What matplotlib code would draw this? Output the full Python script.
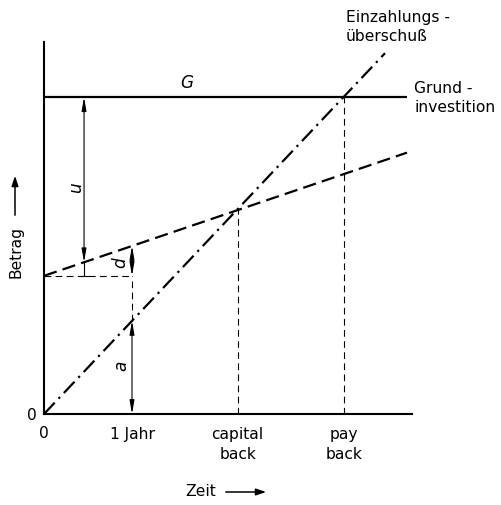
import matplotlib
matplotlib.use("Agg")
import matplotlib.pyplot as plt
import numpy as np

# ---- data (years on x, amount on y, arbitrary units) ----
tick_pos = [0, 1, 2.2, 3.41]
tick_labels = ["0", "1 Jahr", "capital\nback", "pay\nback"]
invest_x = [0, 4.125]
invest_y = [3.6, 3.6]                 # Grundinvestition G
einz_x = [0, 3.875]
einz_y = [0, 4.10]                    # Einzahlungsüberschuß (dash-dot)
cost_x = [0, 4.125]
cost_y = [1.57, 2.97]                 # dashed line
capital_back = 2.2
pay_back = 3.41
u_x = 0.455
year1 = 1.0

W, H = 502, 505
fig = plt.figure(figsize=(W / 100, H / 100), dpi=100)
plt.rcParams['font.family'] = ['DejaVu Sans']
FS = 11.2

def fx(px):
    return px / W

def fy(py):
    return 1 - py / H

ax = fig.add_axes([fx(44), fy(414), (412 - 44) / W, (414 - 42) / H])
ax.set_xlim(0, (412 - 44) / 88)
ax.set_ylim(0, (414 - 42) / 88)
for s in ["top", "right"]:
    ax.spines[s].set_visible(False)
for s in ["left", "bottom"]:
    ax.spines[s].set_linewidth(1.5)
ax.set_xticks(tick_pos)
ax.set_xticklabels(tick_labels, fontsize=FS, linespacing=1.45)
ax.set_yticks([0])
ax.set_yticklabels(["0"], fontsize=FS)
ax.tick_params(length=0, pad=9)
ax.tick_params(axis="y", pad=5)

def lin(xs, ys, x):
    return np.interp(x, xs, ys)

# G line
ax.plot(invest_x, invest_y, color="black", lw=1.6, solid_capstyle="butt", clip_on=False)
# dash-dot line
l1, = ax.plot(einz_x, einz_y, color="black", lw=1.6, clip_on=False)
l1.set_dashes((7, 2.5, 1, 2.5))
# dashed line
l2, = ax.plot(cost_x, cost_y, color="black", lw=1.6, clip_on=False)
l2.set_dashes((6, 2.8))

thin = dict(color="black", lw=0.8)
# vertical dashed helper lines
c_cb = lin(cost_x, cost_y, capital_back)
ax.plot([capital_back, capital_back], [0, c_cb], ls=(0, (6, 4)), **thin)
ax.plot([pay_back, pay_back], [0, invest_y[0]], ls=(0, (6, 4)), **thin)
# horizontal dashed reference at start of cost line
ax.plot([0, year1], [cost_y[0], cost_y[0]], ls=(0, (6, 4)), **thin)
# dashed vertical between a and d at 1 year
e1 = lin(einz_x, einz_y, year1)
c1 = lin(cost_x, cost_y, year1)
ax.plot([year1, year1], [e1, cost_y[0]], ls=(0, (6, 4)), **thin)

aprops = dict(arrowstyle="<|-|>,head_length=0.8,head_width=0.14", color="black",
              lw=0.8, shrinkA=0, shrinkB=0)
# u arrow
cu = lin(cost_x, cost_y, u_x)
ax.annotate("", xy=(u_x, invest_y[0]), xytext=(u_x, cu), arrowprops=aprops)
ax.plot([u_x, u_x], [cost_y[0], cu], **thin)
ax.plot([u_x - 0.05, u_x + 0.05], [cost_y[0], cost_y[0]], **thin)
# d arrow
ax.annotate("", xy=(year1, c1), xytext=(year1, cost_y[0]), arrowprops=aprops)
# a arrow
ax.annotate("", xy=(year1, e1), xytext=(year1, 0), arrowprops=aprops)

# labels
fig.text(fx(187), fy(83), "G", fontsize=FS + 1, style="italic", ha="center", va="center")
fig.text(fx(76), fy(188), "u", fontsize=FS + 1, style="italic", ha="center", va="center", rotation=90)
fig.text(fx(120), fy(263), "d", fontsize=FS + 1, style="italic", ha="center", va="center", rotation=90)
fig.text(fx(121), fy(366), "a", fontsize=FS + 1, style="italic", ha="center", va="center", rotation=90)

fig.text(fx(346), fy(27), "Einzahlungs -\nüberschuß", fontsize=FS, ha="left", va="center",
         linespacing=1.3)
fig.text(fx(414), fy(98), "Grund -\ninvestition", fontsize=FS, ha="left", va="center",
         linespacing=1.3)

# axis titles with arrows
fig.text(fx(201), fy(492), "Zeit", fontsize=FS, ha="center", va="center")
fig.add_artist(matplotlib.patches.FancyArrowPatch(
    (fx(223), fy(492)), (fx(269), fy(492)), transform=fig.transFigure,
    arrowstyle="-|>,head_length=6,head_width=2", color="black", lw=1.1))
fig.text(fx(16), fy(252), "Betrag", fontsize=FS, ha="center", va="center", rotation=90)
fig.add_artist(matplotlib.patches.FancyArrowPatch(
    (fx(15), fy(218)), (fx(15), fy(173)), transform=fig.transFigure,
    arrowstyle="-|>,head_length=6,head_width=2", color="black", lw=1.1))

fig.savefig("out.png", dpi=100)
